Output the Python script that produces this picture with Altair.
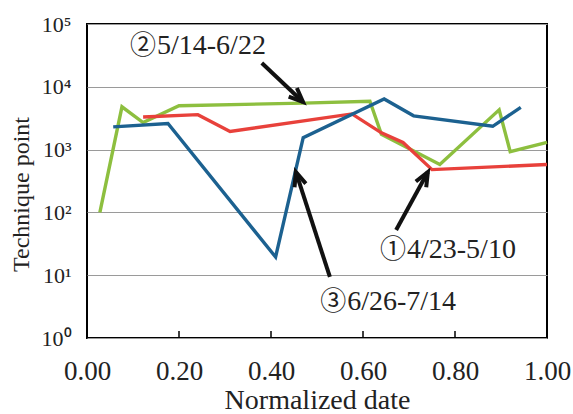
import altair as alt
import pandas as pd

# ---- data ----
green_x = [0.028, 0.076, 0.122, 0.20, 0.47, 0.615, 0.64, 0.767, 0.896, 0.92, 1.0]
green_y = [100, 4800, 2700, 5000, 5500, 5900, 1750, 580, 4300, 930, 1300]
red_x = [0.122, 0.241, 0.311, 0.576, 0.64, 0.687, 0.75, 1.0]
red_y = [3300, 3600, 1950, 3700, 1850, 1300, 480, 580]
blue_x = [0.057, 0.176, 0.41, 0.47, 0.646, 0.71, 0.882, 0.943]
blue_y = [2300, 2600, 19.5, 1550, 6400, 3450, 2350, 4700]

series_names = ["①4/23-5/10", "②5/14-6/22", "③6/26-7/14"]
series_colors = ["#e8413b", "#8dbf3f", "#1c6190"]

x_ticks = [0.0, 0.2, 0.4, 0.6, 0.8, 1.0]
y_ticks = [1, 10, 100, 1000, 10000, 100000]

# annotations (data coordinates)
label_mark = ["①", "②", "③"]
label_text = ["4/23-5/10", "5/14-6/22", "6/26-7/14"]
label_x = [0.637, 0.0935, 0.507]
label_y = [25, 44700, 3.7]
arrow_tail_x = [0.672, 0.380, 0.528]
arrow_tail_y = [52.5, 23900, 9.4]
arrow_tip_x = [0.741, 0.4696, 0.454]
arrow_tip_y = [440, 5730, 440]
arrow_angle = [28.9, 133.6, 342.1]

FONT = "Liberation Serif"

rows = []
for name, xs_, ys_ in [(series_names[1], green_x, green_y),
                       (series_names[0], red_x, red_y),
                       (series_names[2], blue_x, blue_y)]:
    for i, (a, b) in enumerate(zip(xs_, ys_)):
        rows.append({"series": name, "x": a, "y": b, "order": i})
lines_df = pd.DataFrame(rows)

xs = alt.Scale(domain=[0, 1], nice=False, zero=False)
ys = alt.Scale(type="log", domain=[1, 100000], nice=False)

x_axis = alt.Axis(values=x_ticks, format=".2f", title="Normalized date",
                  ticks=False, domain=False, grid=False,
                  labelFontSize=27, labelPadding=20, labelColor="#222",
                  titleFontSize=28, titleFontWeight="normal", titlePadding=2,
                  titleColor="#222", labelFlush=False)
y_axis = alt.Axis(values=y_ticks, title="Technique point",
                  labelExpr="'10' + ['⁰','¹','²','³','⁴','⁵'][round(log(datum.value)/LN10)]",
                  ticks=False, domain=False, grid=True, gridColor="#9a9a9a", gridWidth=1.2,
                  labelFontSize=22, labelPadding=16, labelColor="#222",
                  titleFontSize=24, titleFontWeight="normal", titleColor="#222",
                  titleAngle=270, titleX=-66, titleY=170, titleAlign="center",
                  titleBaseline="middle")

lines = alt.Chart(lines_df).mark_line(strokeWidth=3.4).encode(
    x=alt.X("x:Q", scale=xs, axis=x_axis),
    y=alt.Y("y:Q", scale=ys, axis=y_axis),
    color=alt.Color("series:N", scale=alt.Scale(domain=series_names, range=series_colors), legend=None),
    detail="series:N",
    order="order:Q",
)

tick_df = pd.DataFrame({"x": x_ticks[1:-1]})
ticks = alt.Chart(tick_df).mark_rule(color="black", strokeWidth=1.5).encode(
    x=alt.X("x:Q", scale=xs),
    y=alt.value(314), y2=alt.value(307),
)

arrow_rows = []
for i in range(3):
    arrow_rows.append({"a": i, "x": arrow_tail_x[i], "y": arrow_tail_y[i], "o": 0})
    arrow_rows.append({"a": i, "x": arrow_tip_x[i], "y": arrow_tip_y[i], "o": 1})
arrow_df = pd.DataFrame(arrow_rows)
arrows = alt.Chart(arrow_df).mark_line(color="#111", strokeWidth=4, strokeCap="butt").encode(
    x=alt.X("x:Q", scale=xs), y=alt.Y("y:Q", scale=ys), detail="a:N", order="o:Q"
)

head_df = pd.DataFrame({"x": arrow_tip_x, "y": arrow_tip_y, "angle": arrow_angle})
heads = alt.Chart(head_df).mark_point(
    shape="M -0.42 1 L 0 0 L 0.42 1", filled=False, stroke="#111", strokeWidth=4,
    size=800, opacity=1, strokeJoin="miter"
).encode(
    x=alt.X("x:Q", scale=xs), y=alt.Y("y:Q", scale=ys),
    angle=alt.Angle("angle:Q", scale=None),
)

lab_df = pd.DataFrame({"m": label_mark, "t": label_text, "x": label_x, "y": label_y})
marks = alt.Chart(lab_df).mark_text(
    font="Noto Sans CJK JP", fontSize=26, align="left", baseline="middle", color="#222"
).encode(x=alt.X("x:Q", scale=xs), y=alt.Y("y:Q", scale=ys), text="m:N")
labels = alt.Chart(lab_df).mark_text(
    font=FONT, fontSize=28, align="left", baseline="middle", color="#222", dx=27
).encode(x=alt.X("x:Q", scale=xs), y=alt.Y("y:Q", scale=ys), text="t:N")

chart = alt.layer(lines, ticks, arrows, heads, marks, labels).properties(
    width=460, height=314,
    padding={"left": 87, "top": 24, "right": 26, "bottom": 76},
    autosize=alt.AutoSizeParams(type="none"),
    background="white",
).configure_axis(
    labelFont=FONT, titleFont=FONT
).configure_view(
    stroke="black", strokeWidth=2
)

chart.save("out.html", embed_options={"renderer": "svg", "actions": False})
